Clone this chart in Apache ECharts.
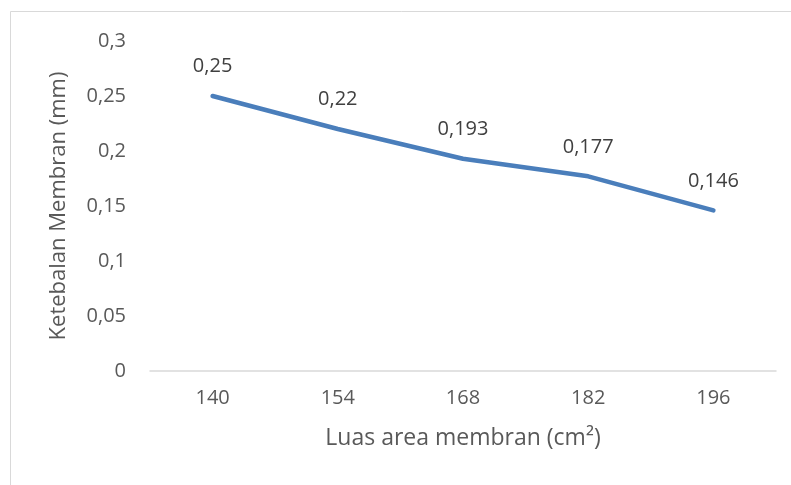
<!DOCTYPE html>
<html>
<head>
<meta charset="utf-8">
<script src="https://cdn.jsdelivr.net/npm/echarts@6/dist/echarts.min.js"></script>
<style>
  html, body { margin: 0; padding: 0; background: #fff; }
  #chart { width: 791px; height: 485px; }
</style>
</head>
<body>
<div id="chart"></div>
<script>
// Membrane area (cm²) against measured membrane thickness (mm)
const categories = ['140', '154', '168', '182', '196'];
const thickness = [0.25, 0.22, 0.193, 0.177, 0.146];
const yTicks = [0, 0.05, 0.1, 0.15, 0.2, 0.25, 0.3];

const FONT = '"Open Sans", "Noto Sans", sans-serif';
const comma = v => String(v).replace('.', ',');

const chart = echarts.init(document.getElementById('chart'), null, { renderer: 'canvas' });
chart.setOption({
  animation: false,
  backgroundColor: '#ffffff',
  graphic: [{
    type: 'rect',
    shape: { x: 10.5, y: 11.5, width: 820, height: 520 },
    style: { fill: 'none', stroke: '#d9d9d9', lineWidth: 1 },
    silent: true,
    z: -1
  }],
  grid: { left: 150, right: 15, top: 41, bottom: 114 },
  xAxis: {
    type: 'category',
    data: categories,
    boundaryGap: true,
    name: 'Luas area membran (cm²)',
    nameLocation: 'middle',
    nameGap: 56,
    nameTextStyle: { fontFamily: FONT, fontSize: 23, color: '#595959' },
    axisLine: { lineStyle: { color: '#d9d9d9', width: 1.5 } },
    axisTick: { show: false },
    axisLabel: { fontFamily: FONT, fontSize: 20, color: '#595959', margin: 17 },
    splitLine: { show: false }
  },
  yAxis: {
    type: 'value',
    min: yTicks[0],
    max: yTicks[yTicks.length - 1],
    interval: 0.05,
    name: 'Ketebalan Membran (mm)',
    nameLocation: 'middle',
    nameGap: 80,
    nameTextStyle: { fontFamily: FONT, fontSize: 22, color: '#595959' },
    axisLine: { show: false },
    axisTick: { show: false },
    axisLabel: {
      fontFamily: FONT, fontSize: 20, color: '#595959', margin: 24,
      formatter: v => comma(+v.toFixed(2))
    },
    splitLine: { show: false }
  },
  series: [{
    type: 'line',
    data: thickness,
    symbol: 'circle',
    symbolSize: 1,
    showSymbol: true,
    itemStyle: { color: 'rgba(0,0,0,0)' },
    lineStyle: { color: '#4a7ebb', width: 4.5, cap: 'round', join: 'round' },
    label: {
      show: true,
      position: 'top',
      distance: 19,
      fontFamily: FONT,
      fontSize: 20,
      color: '#404040',
      formatter: p => comma(p.value)
    }
  }]
});
</script>
</body>
</html>
